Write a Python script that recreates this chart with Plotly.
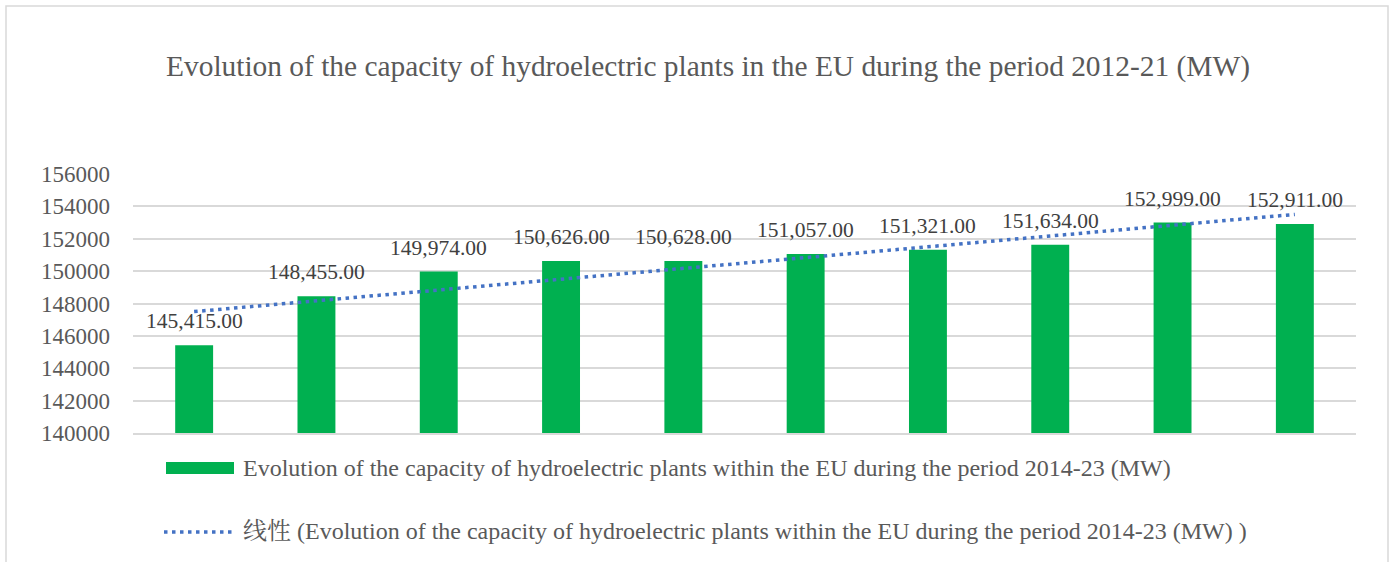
import numpy as np
import plotly.graph_objects as go

categories = ["1", "2", "3", "4", "5", "6", "7", "8", "9", "10"]
values = [145415, 148455, 149974, 150626, 150628, 151057, 151321, 151634, 152999, 152911]
y_ticks = [140000, 142000, 144000, 146000, 148000, 150000, 152000, 154000, 156000]

title = "Evolution of the capacity of hydroelectric plants in the EU during the period 2012-21 (MW)"
series_name = "Evolution of the capacity of hydroelectric plants within the EU during the period 2014-23 (MW)"
trend_name = "线性 (Evolution of the capacity of hydroelectric plants within the EU during the period 2014-23 (MW) )"

# linear trendline (least squares, as Excel does)
idx = np.arange(1, len(values) + 1)
slope, intercept = np.polyfit(idx, values, 1)
trend = [slope * i + intercept for i in idx]

FONT = "Liberation Serif, Times New Roman, Noto Serif CJK SC, Noto Sans CJK SC, serif"
GREEN = "#00B050"
BLUE = "#4472C4"
GREY = "#595959"
DOT = "3.5px,4.5px"

W, H = 1397, 562
L, R, T, B = 133, 41, 174, 129
pw, ph = W - L - R, H - T - B


def px(x):
    return (x - L) / pw


def py(y):
    return (H - B - y) / ph


fig = go.Figure()
fig.add_trace(go.Bar(x=categories, y=values, marker=dict(color=GREEN, line=dict(width=0)),
                     showlegend=False, hoverinfo="y"))
fig.add_trace(go.Scatter(x=categories, y=trend, mode="lines",
                         line=dict(color=BLUE, width=3.5, dash=DOT), showlegend=False))

# data labels (x given as category index)
for i, v in enumerate(values):
    fig.add_annotation(x=i, y=v, text=f"{v:,.2f}", showarrow=False, yshift=24,
                       font=dict(family=FONT, size=21.5, color="#404040"))

# chart border
fig.add_shape(type="rect", xref="paper", yref="paper",
              x0=px(6), x1=px(1388), y0=py(6), y1=py(580),
              line=dict(color="#D9D9D9", width=1.5), fillcolor="rgba(0,0,0,0)", layer="below")

# legend (drawn manually to match the wide symbols)
fig.add_shape(type="rect", xref="paper", yref="paper",
              x0=px(166), x1=px(234), y0=py(474), y1=py(462),
              line=dict(width=0), fillcolor=GREEN)
fig.add_annotation(xref="paper", yref="paper", x=px(241), y=py(468), xanchor="left",
                   yanchor="middle", text=series_name, showarrow=False,
                   font=dict(family=FONT, size=24, color=GREY))
fig.add_shape(type="line", xref="paper", yref="paper",
              x0=px(164), x1=px(233), y0=py(532), y1=py(532),
              line=dict(color=BLUE, width=3.5, dash=DOT))
fig.add_annotation(xref="paper", yref="paper", x=px(241), y=py(531), xanchor="left",
                   yanchor="middle", text=trend_name, showarrow=False,
                   font=dict(family=FONT, size=24, color=GREY))

fig.update_layout(
    width=W, height=H,
    margin=dict(l=L, r=R, t=T, b=B),
    paper_bgcolor="white", plot_bgcolor="white",
    title=dict(text=title, x=708 / W, xref="container", xanchor="center",
               y=1 - 66 / H, yanchor="middle",
               font=dict(family=FONT, size=29.4, color=GREY)),
    font=dict(family=FONT, color=GREY),
    bargap=0.69,
    showlegend=False,
    xaxis=dict(type="category", range=[-0.5, 9.5], showticklabels=False, showgrid=False,
               zeroline=False, showline=True, linecolor="#D9D9D9", linewidth=1.5, ticks=""),
    yaxis=dict(range=[140000, 156000], tickvals=y_ticks, showgrid=True,
               gridcolor="#D9D9D9", gridwidth=1.5, zeroline=False, showline=False,
               tickformat="d", ticklabelstandoff=22,
               tickfont=dict(family=FONT, size=23, color=GREY)),
)

fig.write_html("out.html", post_script="document.body.style.margin='0';",
               config={"displayModeBar": False})
